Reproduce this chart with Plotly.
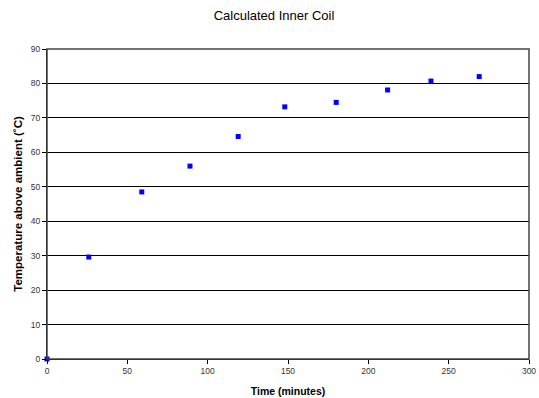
import plotly.graph_objects as go

time_min = [0, 26, 59, 89, 119, 148, 180, 212, 239, 269]
temp_c = [0, 29.6, 48.5, 56.0, 64.6, 73.2, 74.5, 78.1, 80.7, 82.0]

title_text = "Calculated Inner Coil"
x_title = "Time (minutes)"
y_title = "Temperature above ambient (˚C)"

W, H = 539, 398

fig = go.Figure()
fig.add_trace(go.Scatter(
    x=time_min, y=temp_c, mode="markers",
    marker=dict(symbol="square", size=5, color="#0000FF", line=dict(width=0)),
    cliponaxis=False, showlegend=False,
))

fig.update_layout(
    width=W, height=H,
    margin=dict(l=47, r=10, t=49, b=39, autoexpand=False),
    paper_bgcolor="white", plot_bgcolor="white",
    font=dict(family="Liberation Sans, Arial, sans-serif", color="#000000"),
    title=dict(text=title_text, x=274 / W, xanchor="center", y=1 - 15 / H, yanchor="middle",
               font=dict(size=13, color="#000000")),
)
fig.update_xaxes(
    range=[0, 300], tickvals=[0, 50, 100, 150, 200, 250, 300],
    showgrid=False, zeroline=False, automargin=False,
    showline=True, linecolor="#000000", linewidth=1, mirror=False,
    ticks="outside", ticklen=4, tickcolor="#000000",
    tickfont=dict(size=8.5, color="#333333"),
    title=dict(text="<b>" + x_title + "</b>", font=dict(size=10.5), standoff=12),
)
fig.update_yaxes(
    range=[0, 90], tickvals=[0, 10, 20, 30, 40, 50, 60, 70, 80, 90],
    showgrid=True, gridcolor="#000000", gridwidth=1, zeroline=False, automargin=False,
    showline=True, linecolor="#000000", linewidth=1,
    ticks="outside", ticklen=4, tickcolor="#000000",
    tickfont=dict(size=8.5, color="#333333"),
    title=dict(text="<b>" + y_title + "</b>", font=dict(size=11.5), standoff=5),
)
fig.add_shape(type="rect", xref="paper", yref="paper", x0=0, y0=0, x1=1, y1=1,
              line=dict(color="#444444", width=1.5), layer="above")

fig.write_html(
    "out.html",
    config={"displayModeBar": False},
    post_script="document.body.style.margin='0';document.body.style.overflow='hidden';",
)
